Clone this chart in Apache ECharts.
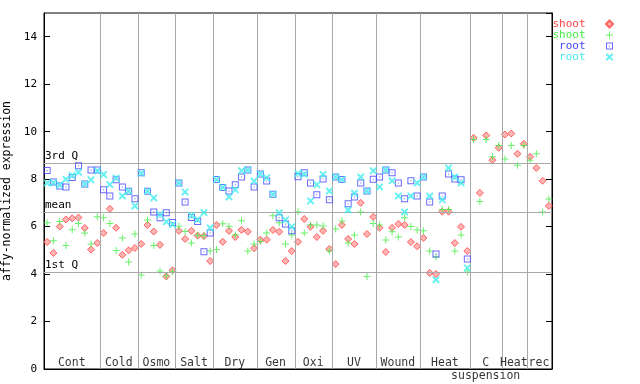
<!DOCTYPE html>
<html><head><meta charset="utf-8">
<script src="https://cdn.jsdelivr.net/npm/echarts@6/dist/echarts.min.js"></script>
<style>html,body{margin:0;padding:0;background:#fff}#c{width:640px;height:384px}</style>
</head><body><div id="c"></div>
<script>
const groupNames = ['Cont','Cold','Osmo','Salt','Dry','Gen','Oxi','UV','Wound','Heat','C\nsuspension','Heat','rec'];
const groupSizes = [9,6,6,6,7,6,6,7,7,8,5,4,4];
const shoot1 = [5.35,4.89,6.00,6.30,6.35,6.38,5.94,5.03,5.31,
 5.73,6.75,5.95,4.81,5.00,5.10,
 5.27,6.07,5.79,5.23,3.90,4.16,
 5.82,5.48,5.82,5.62,5.60,4.55,
 6.07,5.36,5.82,5.56,5.86,5.79,5.09,
 5.45,5.45,5.86,5.78,4.55,4.97,
 5.36,6.32,5.99,5.56,5.82,5.06,
 4.42,6.07,5.48,5.27,7.00,5.69,6.41,
 5.95,4.93,5.95,6.11,6.07,5.35,5.17,
 5.52,4.05,4.00,6.63,6.63,5.31,5.99,4.97,
 9.74,7.42,9.84,8.80,9.32,
 9.88,9.92,9.07,9.49,
 8.94,8.47,7.93,6.87];
const shoot2 = [6.16,5.40,6.21,5.20,5.87,6.13,5.73,5.27,6.41,
 6.37,6.13,4.99,5.52,4.51,5.69,
 3.96,6.28,5.20,4.13,3.93,4.10,
 6.02,5.79,5.31,5.64,5.61,4.97,
 5.03,6.12,6.02,5.65,6.25,4.97,5.27,
 5.37,5.73,6.46,6.16,5.27,5.65,
 6.63,5.73,6.07,6.07,6.03,4.97,
 5.90,6.24,5.31,5.65,6.62,3.90,6.13,
 6.07,5.44,5.78,5.56,6.37,6.00,5.86,
 5.82,4.97,4.72,6.72,6.72,4.97,5.65,4.09,
 9.67,7.06,9.67,8.94,9.42,
 8.85,9.42,8.58,9.42,
 8.80,9.07,6.62,7.16];
const root1 = [8.36,7.88,7.71,7.67,8.07,8.56,7.79,8.39,8.38,
 7.55,7.29,7.97,7.67,7.49,7.17,
 8.27,7.49,6.62,6.37,6.58,6.17,
 7.84,7.04,6.38,6.21,4.94,5.73,
 7.98,7.65,7.50,7.76,8.09,8.39,7.67,
 8.22,7.92,7.36,6.37,6.11,5.82,
 8.10,8.27,7.84,7.34,8.01,7.13,
 8.09,7.98,6.96,7.25,7.84,7.50,7.99,
 8.09,8.38,8.27,7.84,7.17,7.93,7.29,
 8.09,7.04,4.85,7.29,8.22,8.01,7.97,4.64,
 null,null,null,null,null,null,null,null,null,null,null,null,null];
const root2 = [7.84,7.85,7.75,8.00,8.15,8.29,7.79,7.97,8.35,
 8.20,7.77,8.05,7.29,7.49,6.87,
 8.25,7.49,7.21,6.51,6.20,6.09,
 7.84,7.46,6.47,6.30,6.59,5.95,
 7.98,7.65,7.25,7.55,8.35,8.39,7.92,
 8.22,8.06,7.36,6.58,6.28,5.99,
 8.24,8.21,7.08,7.76,8.20,7.50,
 8.09,7.98,6.70,7.41,8.09,7.50,8.35,
 7.67,8.38,7.93,7.29,6.62,7.29,7.84,
 8.09,7.29,3.76,7.13,8.47,8.09,7.84,4.26,
 null,null,null,null,null,null,null,null,null,null,null,null,null];
const refValues = [8.69, 6.62, 4.09];
const refLabels = ['3rd Q', 'mean', '1st Q'];
const seriesNames = ['shoot', 'shoot', 'root', 'root'];
const yTickStep = 2;

const FONT = 'DejaVu Sans Mono';
const colors = ['#ff4444', '#44ee44', '#4444ff', '#44eeee'];
const symbols = [
  'path://M3.5,0L7,3.5L3.5,7L0,3.5Z',
  'path://M3,0H4V7H3Z M0,3H7V4H0Z',
  'path://M0,0H7V7H0Z M1,1V6H6V1Z M3,3H4V4H3Z',
  'path://M0,0H1.4L7,5.6V7H5.6L0,1.4Z M5.6,0H7V1.4L1.4,7H0V5.6Z'
];
const toPts = arr => arr.map((v, i) => v == null ? null : [i + 0.5, v]).filter(p => p);
let acc = 0; const bounds = [];
groupSizes.forEach(s => { acc += s; bounds.push(acc); });
const total = acc;
const centers = groupSizes.map((s, i) => bounds[i] - s / 2);

const dataSets = [shoot1, shoot2, root1, root2];
const ids = ['s1', 's2', 'r1', 'r2'];
const series = dataSets.map((arr, k) => ({
  type: 'scatter', name: ids[k], data: toPts(arr),
  symbol: symbols[k], symbolSize: 7,
  itemStyle: k === 0 ? { color: '#ffa0a0', borderColor: colors[0], borderWidth: 1 } : { color: colors[k] },
  z: 3 + k, silent: true
}));
series[0].markLine = {
  silent: true, symbol: ['none', 'none'], animation: false,
  data: bounds.slice(0, -1).map(b => ({ xAxis: b, label: { show: false }, lineStyle: { color: '#a8a8a8', width: 1, type: 'solid' } }))
    .concat(refValues.map((v, i) => ({ yAxis: v, name: refLabels[i], lineStyle: { color: '#a8a8a8', width: 1, type: 'solid' },
      label: { show: true, position: 'insideStartTop', formatter: '{b}', color: '#000', fontFamily: FONT, fontSize: 11, distance: [1, 1] } })))
};
series.push({
  type: 'scatter', name: 'groups', silent: true, clip: false,
  data: centers.map((c, i) => ({ value: [c, 0], name: groupNames[i] })),
  symbolSize: 1, itemStyle: { color: 'rgba(0,0,0,0)' }, z: 10,
  label: { show: true, formatter: '{b}', position: [0, -12], align: 'center', verticalAlign: 'top',
    fontFamily: FONT, fontSize: 11.5, lineHeight: 13, color: '#000' }
});

const chart = echarts.init(document.getElementById('c'), null, { renderer: 'canvas' });
chart.setOption({
  animation: false,
  backgroundColor: '#fff',
  grid: { left: 44, right: 88, top: 13, bottom: 15, show: true, borderColor: '#000', borderWidth: 1,
    containLabel: false, outerBoundsMode: 'none' },
  legend: {
    orient: 'vertical', right: 26, top: 18.5, padding: 0, align: 'right', z: 20,
    itemWidth: 38, itemHeight: 7, itemGap: 0, selectedMode: false,
    formatter: n => seriesNames[ids.indexOf(n)],
    textStyle: { fontFamily: FONT, fontSize: 11, lineHeight: 11 },
    data: ids.map((id, k) => ({ name: id, icon: symbols[k], textStyle: { color: colors[k] } }))
  },
  xAxis: {
    type: 'value', min: 0, max: total,
    axisLine: { show: true, lineStyle: { color: '#000' } },
    axisTick: { show: false }, axisLabel: { show: false }, splitLine: { show: false }
  },
  yAxis: [{
    type: 'value', min: 0, max: 15, interval: yTickStep,
    name: 'affy-normalized expression', nameLocation: 'middle', nameGap: 25,
    nameTextStyle: { fontFamily: FONT, fontSize: 11.5, color: '#000' },
    axisLine: { show: true, lineStyle: { color: '#000' } },
    axisTick: { show: true, inside: true, length: 6, lineStyle: { color: '#000' } },
    axisLabel: { fontFamily: FONT, fontSize: 11, color: '#000', margin: 7, showMaxLabel: false,
      formatter: v => (v % yTickStep === 0 ? String(v) : '') },
    splitLine: { show: false }
  }, {
    type: 'value', min: 0, max: 15, interval: yTickStep, position: 'right',
    axisLine: { show: true, lineStyle: { color: '#000' } },
    axisTick: { show: true, inside: true, length: 6, lineStyle: { color: '#000' } },
    axisLabel: { show: false }, splitLine: { show: false }
  }],
  series: series
});
</script></body></html>
